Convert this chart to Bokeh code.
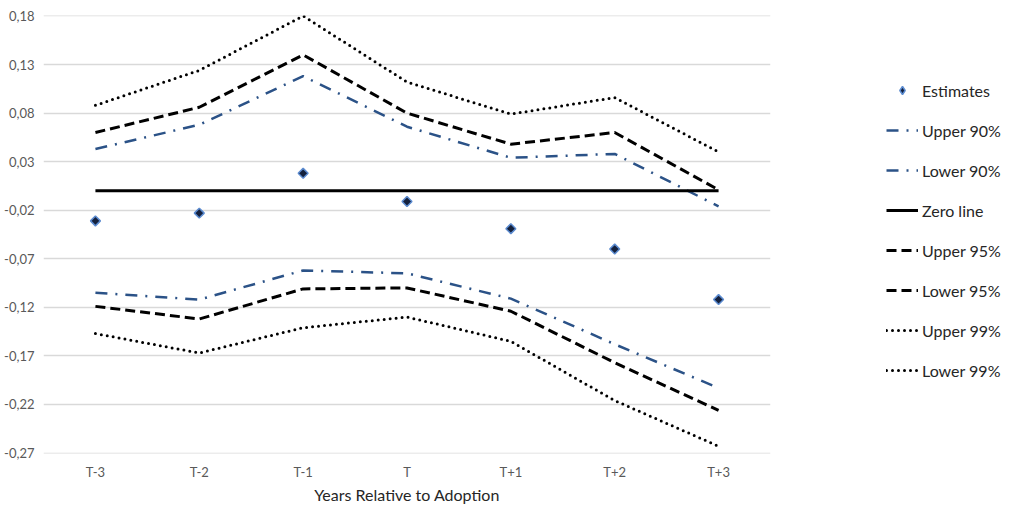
import math
from bokeh.plotting import figure
from bokeh.models import (FactorRange, Range1d, FixedTicker, CustomJSTickFormatter,
                          Legend, LegendItem)
from bokeh.embed import file_html
from bokeh.resources import INLINE

categories = ["T-3", "T-2", "T-1", "T", "T+1", "T+2", "T+3"]
estimates = [-0.031, -0.023, 0.018, -0.011, -0.039, -0.060, -0.112]
upper_90 = [0.043, 0.068, 0.118, 0.066, 0.034, 0.038, -0.016]
lower_90 = [-0.105, -0.112, -0.082, -0.085, -0.111, -0.158, -0.203]
zero_line = [0, 0, 0, 0, 0, 0, 0]
upper_95 = [0.060, 0.086, 0.140, 0.080, 0.048, 0.060, 0.001]
lower_95 = [-0.119, -0.132, -0.101, -0.100, -0.124, -0.177, -0.226]
upper_99 = [0.088, 0.124, 0.180, 0.112, 0.079, 0.096, 0.040]
lower_99 = [-0.147, -0.167, -0.141, -0.130, -0.155, -0.216, -0.263]
y_ticks = [round(-0.27 + 0.05 * i, 2) for i in range(10)]

FONT = "Lato"
BLUE = "#2B5287"

p = figure(frame_width=727, frame_height=438, x_range=FactorRange(factors=categories),
           y_range=Range1d(-0.2705, 0.1805), output_backend="svg",
           toolbar_location=None, min_border_left=43, min_border_right=0,
           min_border_top=15, min_border_bottom=0)
p.outline_line_color = None
p.background_fill_color = "white"
p.border_fill_color = "white"

p.xgrid.grid_line_color = None
p.ygrid.grid_line_color = "#D9D9D9"
p.ygrid.grid_line_width = 1.3

p.yaxis.ticker = FixedTicker(ticks=y_ticks)
p.yaxis.formatter = CustomJSTickFormatter(code="return tick.toFixed(2).replace('.', ',');")
for ax in (p.xaxis, p.yaxis):
    ax.axis_line_color = None
    ax.major_tick_line_color = None
    ax.minor_tick_line_color = None
    ax.major_tick_out = 0
    ax.major_tick_in = 0
    ax.minor_tick_out = 0
    ax.major_label_text_font = FONT
    ax.major_label_text_font_size = "13px"
    ax.major_label_text_color = "#595959"
p.yaxis.major_label_standoff = 9
p.xaxis.major_label_standoff = 10
p.xaxis.axis_label = "Years Relative to Adoption"
p.xaxis.axis_label_text_font = FONT
p.xaxis.axis_label_text_font_size = "16px"
p.xaxis.axis_label_text_font_style = "normal"
p.xaxis.axis_label_text_color = "#262626"
p.xaxis.axis_label_standoff = 2

r_est = p.scatter(categories, estimates, marker="square", angle=math.pi / 4, size=7,
                  fill_color="#14213D", line_color="#5B8BD0", line_width=1.5)
r_est_key = p.scatter(x=[categories[0]], y=[float("nan")], marker="diamond", size=10,
                      fill_color="#14213D", line_color="#5B8BD0", line_width=1.5)
r_u90 = p.line(categories, upper_90, line_color=BLUE, line_width=2.5, line_dash="12 8 2 8")
r_l90 = p.line(categories, lower_90, line_color=BLUE, line_width=2.5, line_dash="12 8 2 8")
r_zero = p.line(categories, zero_line, line_color="black", line_width=3)
r_u95 = p.line(categories, upper_95, line_color="black", line_width=3, line_dash="10 5")
r_l95 = p.line(categories, lower_95, line_color="black", line_width=3, line_dash="10 5")
r_u99 = p.line(categories, upper_99, line_color="black", line_width=3, line_dash="0 6", line_cap="round")
r_l99 = p.line(categories, lower_99, line_color="black", line_width=3, line_dash="0 6", line_cap="round")

items = [
    LegendItem(label="Estimates", renderers=[r_est_key]),
    LegendItem(label="Upper 90%", renderers=[r_u90]),
    LegendItem(label="Lower 90%", renderers=[r_l90]),
    LegendItem(label="Zero line", renderers=[r_zero]),
    LegendItem(label="Upper 95%", renderers=[r_u95]),
    LegendItem(label="Lower 95%", renderers=[r_l95]),
    LegendItem(label="Upper 99%", renderers=[r_u99]),
    LegendItem(label="Lower 99%", renderers=[r_l99]),
]
legend = Legend(items=items, location=(116, 73))
legend.label_text_font = FONT
legend.label_text_font_size = "16px"
legend.label_text_color = "#262626"
legend.glyph_width = 32
legend.glyph_height = 20
legend.label_height = 20
legend.label_standoff = 4
legend.spacing = 20
legend.padding = 0
legend.margin = 0
legend.border_line_color = None
legend.background_fill_alpha = 0
p.add_layout(legend, "right")

open("out.html", "w").write(file_html(p, INLINE))
